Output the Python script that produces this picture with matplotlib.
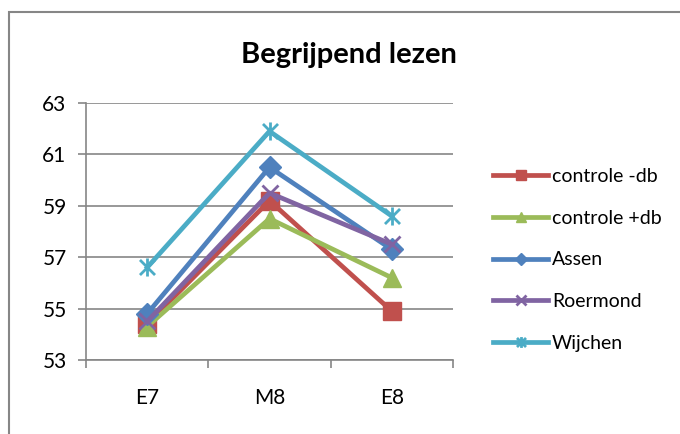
import matplotlib
matplotlib.use('Agg')
import matplotlib.pyplot as plt
from matplotlib.path import Path
from matplotlib.patches import Rectangle

plt.rcParams['font.family'] = ['Lato', 'DejaVu Sans']

categories = ['E7', 'M8', 'E8']
series_names = ['controle -db', 'controle +db', 'Assen', 'Roermond', 'Wijchen']
controle_min = [54.4, 59.2, 54.9]
controle_plus = [54.3, 58.5, 56.2]
assen = [54.8, 60.5, 57.3]
roermond = [54.5, 59.5, 57.5]
wijchen = [56.6, 61.9, 58.6]
series_values = [controle_min, controle_plus, assen, roermond, wijchen]
colors = ['#C0504D', '#9BBB59', '#4F81BD', '#8064A2', '#4BACC6']

# excel style star: x with a vertical bar through it
star = Path([(-1, -1), (1, 1), (-1, 1), (1, -1), (0, -1.2), (0, 1.2)],
            [Path.MOVETO, Path.LINETO, Path.MOVETO, Path.LINETO, Path.MOVETO, Path.LINETO])
markers = ['s', '^', 'D', 'x', star]
msizes = [13, 13, 11, 12, 13]

fig = plt.figure(figsize=(6.8, 4.34), dpi=100)
fig.patches.append(Rectangle((8.5 / 680, -0.1), 1.2, 1 - 11.5 / 434 + 0.1,
                             transform=fig.transFigure, fill=False,
                             edgecolor='#868686', linewidth=1.5))
ax = fig.add_axes([86 / 680, 1 - 360 / 434, (453 - 86) / 680, (360 - 103) / 434])

x = list(range(1, len(categories) + 1))
for name, vals, c, m, ms in zip(series_names, series_values, colors, markers, msizes):
    ax.plot(x, vals, color=c, linewidth=3.4, marker=m, markersize=ms,
            markeredgewidth=2 if m in ('x',) or m is star else 1,
            markeredgecolor=c, markerfacecolor=c, label=name)

ax.set_xlim(0.5, 3.5)
ax.set_ylim(53, 63)
ax.set_yticks([53, 55, 57, 59, 61, 63])
ax.set_xticks([0.5, 1.5, 2.5, 3.5])
ax.set_xticklabels([])
ax.set_xticks(x, minor=True)
ax.set_xticklabels(categories, minor=True)
ax.tick_params(axis='x', which='minor', length=0, pad=20, labelsize=15)
ax.tick_params(axis='x', which='major', length=6, color='#868686', width=1.2)
ax.tick_params(axis='y', length=6, color='#868686', width=1.2, labelsize=15, pad=8)
ax.grid(axis='y', color='#868686', linewidth=1.2)
ax.set_axisbelow(True)
for s in ['top', 'right']:
    ax.spines[s].set_visible(False)
for s in ['left', 'bottom']:
    ax.spines[s].set_color('#868686')
    ax.spines[s].set_linewidth(1.2)

fig.text(349 / 680, 1 - 55 / 434, 'Begrijpend lezen', ha='center', va='center',
         fontsize=21, fontweight='bold')

ax.legend(loc='upper left', bbox_to_anchor=(493 / 680, 1 - 168 / 434),
          bbox_transform=fig.transFigure, frameon=False, fontsize=14,
          handlelength=2.83, handletextpad=0.2, labelspacing=1.27, markerscale=0.6,
          borderpad=0, borderaxespad=0)

fig.savefig('out.png', dpi=100)
